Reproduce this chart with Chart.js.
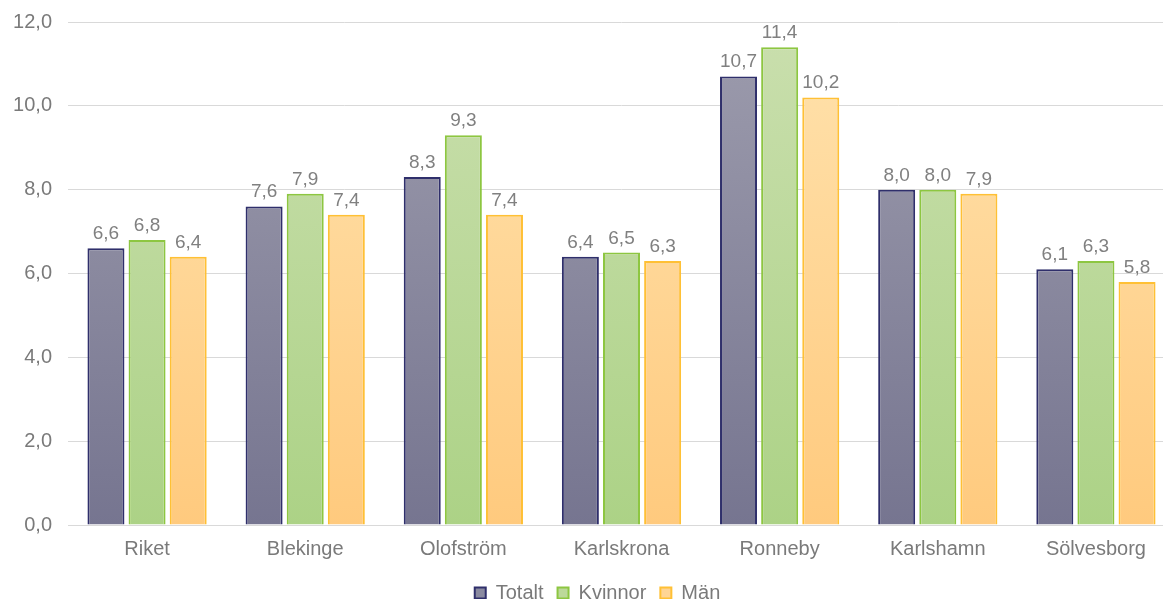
<!DOCTYPE html>
<html>
<head>
<meta charset="utf-8">
<script src="https://cdn.jsdelivr.net/npm/chart.js@4/dist/chart.umd.min.js"></script>
<style>
  html, body { margin: 0; padding: 0; background: #fff; overflow: hidden; }
  #wrap { width: 1196px; height: 619px; margin-top: -6px; }
</style>
</head>
<body>
<div id="wrap"><canvas id="chart"></canvas></div>
<script>
// Data
const kategorier = ['Riket', 'Blekinge', 'Olofström', 'Karlskrona', 'Ronneby', 'Karlshamn', 'Sölvesborg'];
const totalt  = [6.6, 7.6, 8.3, 6.4, 10.7, 8.0, 6.1];
const kvinnor = [6.8, 7.9, 9.3, 6.5, 11.4, 8.0, 6.3];
const man     = [6.4, 7.4, 7.4, 6.3, 10.2, 7.9, 5.8];

const FONT = '"Liberation Sans", Arial, sans-serif';
const fmt = v => v.toFixed(1).replace('.', ',');

// Vertical gradient for each series
function grad(top, bottom) {
    return function(context) {
        const area = context.chart.chartArea;
        if (!area) return bottom;
        const g = context.chart.ctx.createLinearGradient(0, area.top, 0, area.bottom);
        g.addColorStop(0, top);
        g.addColorStop(1, bottom);
        return g;
    };
}

// Value labels above bars
const valueLabels = {
    id: 'valueLabels',
    afterDatasetsDraw(chart) {
        const ctx = chart.ctx;
        ctx.save();
        ctx.font = '19px ' + FONT;
        ctx.fillStyle = '#808080';
        ctx.textAlign = 'center';
        ctx.textBaseline = 'alphabetic';
        chart.data.datasets.forEach((ds, i) => {
            chart.getDatasetMeta(i).data.forEach((bar, j) => {
                ctx.fillText(fmt(ds.data[j]), bar.x, bar.y - 9);
            });
        });
        ctx.restore();
    }
};

// Nudge the legend a little to the right
const legendShift = {
    id: 'legendShift',
    afterLayout(chart) {
        if (chart.legend) {
            chart.legend.left += 4;
            chart.legend.right += 4;
        }
    }
};

new Chart(document.getElementById('chart'), {
    type: 'bar',
    data: {
        labels: kategorier,
        datasets: [
            {
                label: 'Totalt',
                data: totalt,
                backgroundColor: grad('#9d9cad', '#767590'),
                borderColor: '#2f2f6b',
                borderWidth: 2
            },
            {
                label: 'Kvinnor',
                data: kvinnor,
                backgroundColor: grad('#cadfae', '#acd286'),
                borderColor: '#8dc641',
                borderWidth: 2
            },
            {
                label: 'Män',
                data: man,
                backgroundColor: grad('#ffe2ad', '#ffca7e'),
                borderColor: '#ffc035',
                borderWidth: 2
            }
        ]
    },
    options: {
        responsive: true,
        maintainAspectRatio: false,
        animation: false,
        layout: { padding: { top: 6, right: 21, left: 12, bottom: 0 } },
        datasets: {
            bar: { categoryPercentage: 0.78, barPercentage: 0.9 }
        },
        plugins: {
            legend: {
                position: 'bottom',
                labels: {
                    boxWidth: 11,
                    boxHeight: 11,
                    padding: 14,
                    color: '#7a7a7a',
                    font: { size: 20, family: FONT },
                    generateLabels(chart) {
                        const fills = ['#8a8aa0', '#bcd99a', '#ffd595'];
                        return chart.data.datasets.map((ds, i) => ({
                            text: ds.label,
                            fillStyle: fills[i],
                            strokeStyle: ds.borderColor,
                            lineWidth: 2,
                            fontColor: '#7a7a7a',
                            hidden: false,
                            datasetIndex: i
                        }));
                    }
                }
            },
            tooltip: { enabled: false }
        },
        scales: {
            y: {
                min: 0,
                max: 12,
                ticks: {
                    stepSize: 2,
                    color: '#7a7a7a',
                    padding: 16,
                    font: { size: 20, family: FONT },
                    callback: v => fmt(v)
                },
                grid: { color: '#d9d9d9', lineWidth: 1, drawTicks: false },
                border: { display: false },
                afterFit(scale) { scale.width = 56; }
            },
            x: {
                ticks: {
                    color: '#7a7a7a',
                    padding: 4,
                    font: { size: 20, family: FONT }
                },
                grid: { display: false },
                border: { color: '#d9d9d9' },
                afterFit(scale) { scale.height += 4; }
            }
        }
    },
    plugins: [valueLabels, legendShift]
});
</script>
</body>
</html>
